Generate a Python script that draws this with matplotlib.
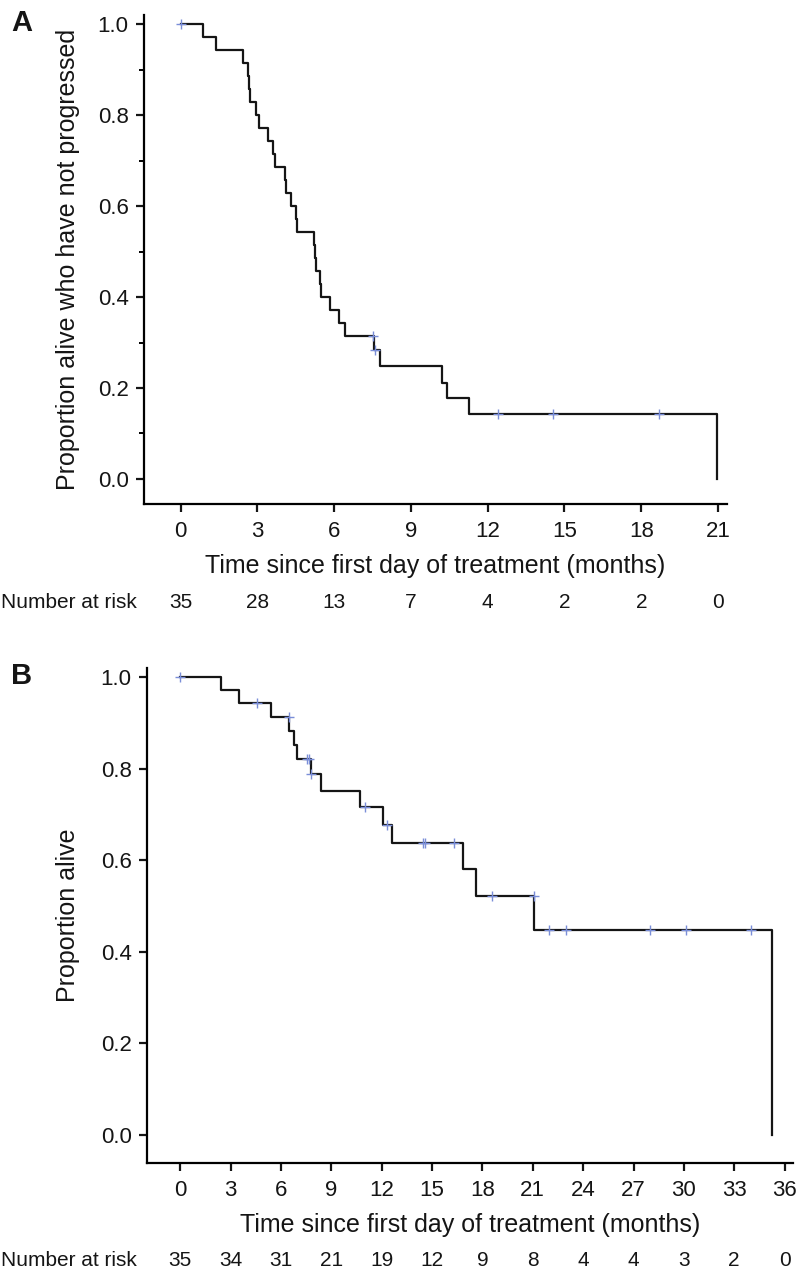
import numpy as np
import matplotlib
matplotlib.use("Agg")
import matplotlib.pyplot as plt
from matplotlib.transforms import blended_transform_factory

plt.rcParams['font.family'] = ['Liberation Sans', 'DejaVu Sans']

# Panel A: progression-free survival (step times in months, proportion after each step)
a_times = [0, 0.87, 1.39, 2.43, 2.65, 2.69, 2.72, 2.95, 3.07, 3.43, 3.63, 3.69,
           4.08, 4.12, 4.30, 4.50, 4.56, 5.20, 5.25, 5.30, 5.45, 5.50, 5.84,
           6.17, 6.43, 7.55, 7.79, 10.23, 10.40, 11.25, 20.97]
a_surv = [1.0, 0.971, 0.943, 0.914, 0.886, 0.857, 0.829, 0.800, 0.771, 0.743,
          0.714, 0.686, 0.657, 0.629, 0.600, 0.571, 0.543, 0.514, 0.486, 0.457,
          0.429, 0.400, 0.371, 0.343, 0.314, 0.283, 0.248, 0.212, 0.177, 0.142, 0.0]
a_cens_t = [0, 7.53, 7.60, 12.42, 14.54, 18.71]
a_cens_s = [1.0, 0.314, 0.283, 0.142, 0.142, 0.142]
a_risk_t = [0, 3, 6, 9, 12, 15, 18, 21]
a_risk_n = [35, 28, 13, 7, 4, 2, 2, 0]

# Panel B: overall survival
b_times = [0, 2.42, 3.51, 5.42, 6.45, 6.75, 6.95, 7.78, 8.37, 10.70, 12.10,
           12.60, 16.87, 17.62, 21.10, 35.24]
b_surv = [1.0, 0.971, 0.943, 0.913, 0.883, 0.852, 0.822, 0.789, 0.752, 0.716,
          0.678, 0.638, 0.580, 0.522, 0.447, 0.0]
b_cens_t = [0, 4.60, 6.50, 7.55, 7.68, 7.80, 11.00, 12.34, 14.45, 14.60, 16.30,
            18.60, 21.05, 21.98, 22.98, 28.00, 30.10, 34.00]
b_cens_s = [1.0, 0.943, 0.913, 0.822, 0.822, 0.789, 0.716, 0.678, 0.638, 0.638,
            0.638, 0.522, 0.522, 0.447, 0.447, 0.447, 0.447, 0.447]
b_risk_t = [0, 3, 6, 9, 12, 15, 18, 21, 24, 27, 30, 33, 36]
b_risk_n = [35, 34, 31, 21, 19, 12, 9, 8, 4, 4, 3, 2, 0]

W, H = 798, 1274
FS_TICK = 16
FS_LABEL = 18
FS_RISK = 15
INK = '#151515'
fig = plt.figure(figsize=(W / 100, H / 100), dpi=100)


def px_axes(left, top, right, bottom):
    return fig.add_axes([left / W, 1 - bottom / H, (right - left) / W, (bottom - top) / H])


def km_panel(ax, times, surv, ct, cs, rt, rn, xlim, ylim, ylabel, letter,
             spine_y, minor):
    ax.step(times, surv, where='post', color=INK, lw=1.6)
    ax.plot(ct, cs, ls='none', marker='+', ms=7, mew=1.0, color='#7a8ed8')
    ax.set_xlim(*xlim)
    ax.set_ylim(*ylim)
    for s in ['top', 'right']:
        ax.spines[s].set_visible(False)
    for s in ['left', 'bottom']:
        ax.spines[s].set_linewidth(1.6)
    ax.set_xticks(rt)
    ax.set_yticks([0, 0.2, 0.4, 0.6, 0.8, 1.0])
    ax.set_yticklabels(['0.0', '0.2', '0.4', '0.6', '0.8', '1.0'])
    if minor:
        ax.set_yticks([0.1, 0.3, 0.5, 0.7, 0.9], minor=True)
        ax.tick_params(axis='y', which='minor', length=3.5, width=1.4)
    ax.tick_params(axis='both', which='major', length=6, width=1.6,
                   labelsize=FS_TICK, colors=INK)
    ax.tick_params(axis='x', pad=6)
    ax.tick_params(axis='y', pad=5)

    tr = blended_transform_factory(ax.transData, fig.transFigure)
    p = ax.get_position()
    fig.text((p.x0 + p.x1) / 2, 1 - (spine_y + 62) / H,
             'Time since first day of treatment (months)',
             ha='center', va='center', fontsize=FS_LABEL, color=INK)
    yr = 1 - (spine_y + 98) / H
    fig.text(1 / W, yr, 'Number at risk', ha='left', va='center',
             fontsize=FS_RISK, color=INK)
    for t, n in zip(rt, rn):
        ax.text(t, yr, str(n), transform=tr, ha='center', va='center',
                fontsize=FS_RISK, color=INK)
    fig.text(68 / W, (p.y0 + p.y1) / 2, ylabel, rotation=90, ha='center',
             va='center', fontsize=FS_LABEL, color=INK)
    fig.text(11 / W, p.y1 + 6 / H, letter, ha='left', va='top', fontsize=21,
             fontweight='bold', color=INK)


axA = px_axes(144, 15, 727, 504)
km_panel(axA, a_times, a_surv, a_cens_t, a_cens_s, a_risk_t, a_risk_n,
         (-1.43, 21.35), (-0.055, 1.02), 'Proportion alive who have not progressed',
         'A', 504, True)

axB = px_axes(147, 668, 793, 1163)
km_panel(axB, b_times, b_surv, b_cens_t, b_cens_s, b_risk_t, b_risk_n,
         (-1.98, 36.5), (-0.061, 1.02), 'Proportion alive', 'B', 1163, False)

fig.savefig('out.png', dpi=100)
